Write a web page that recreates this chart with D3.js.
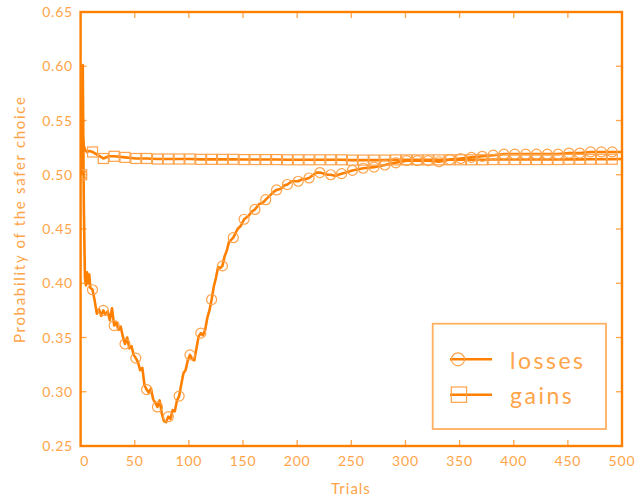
<!DOCTYPE html>
<html><head><meta charset="utf-8">
<script src="https://cdn.jsdelivr.net/npm/d3@7"></script>
<style>
body{margin:0;background:#fff;}
svg text{font-family:Lato,"Open Sans",sans-serif;}
</style></head>
<body><svg id="c" width="636" height="502"></svg>
<script>
const lossTrials = [1,2,3,4,5,6,7,8,9,11,13,15,17,19,21,23,25,27,29,31,33,35,37,39,41,43,45,47,49,51,53,55,57,59,61,63,65,67,69,71,73,75,77,79,81,83,85,87,89,91,93,95,97,99,101,103,105,107,109,111,113,115,117,119,121,123,125,127,129,131,133,135,137,139,141,145,148,151,155,158,161,165,168,171,175,178,181,185,188,191,195,198,201,205,208,211,215,218,221,225,228,231,235,238,241,245,248,251,261,271,281,291,301,311,321,331,341,351,361,371,381,391,401,411,421,431,441,451,461,471,481,491,500];
const lossValues = [0.500,0.601,0.470,0.405,0.398,0.410,0.400,0.408,0.396,0.394,0.384,0.372,0.376,0.370,0.375,0.371,0.374,0.366,0.377,0.361,0.364,0.357,0.360,0.351,0.344,0.350,0.340,0.342,0.334,0.331,0.327,0.320,0.322,0.306,0.302,0.299,0.303,0.293,0.290,0.286,0.292,0.280,0.273,0.272,0.277,0.275,0.283,0.282,0.292,0.296,0.307,0.317,0.320,0.329,0.334,0.330,0.329,0.340,0.351,0.354,0.352,0.357,0.368,0.375,0.385,0.397,0.405,0.415,0.414,0.416,0.425,0.430,0.438,0.440,0.442,0.450,0.453,0.459,0.462,0.466,0.468,0.473,0.474,0.477,0.481,0.484,0.486,0.487,0.490,0.491,0.494,0.494,0.494,0.496,0.496,0.497,0.500,0.502,0.502,0.501,0.500,0.500,0.499,0.500,0.501,0.502,0.503,0.504,0.506,0.507,0.509,0.511,0.513,0.513,0.513,0.512,0.514,0.515,0.516,0.517,0.518,0.519,0.519,0.519,0.519,0.519,0.519,0.520,0.520,0.521,0.521,0.521,0.521];
const gainTrials = [1,2,3,4,6,8,11,16,21,26,31,41,51,61,71,81,91,101,111,121,131,141,151,161,171,181,191,201,211,221,231,241,251,261,271,281,291,301,311,321,331,341,351,361,371,381,391,401,411,421,431,441,451,461,471,481,491,500];
const gainValues = [0.500,0.535,0.527,0.523,0.521,0.522,0.521,0.518,0.515,0.517,0.517,0.516,0.515,0.515,0.5145,0.5145,0.5145,0.5145,0.5142,0.5142,0.5142,0.5142,0.514,0.514,0.514,0.514,0.5138,0.5138,0.5138,0.5138,0.5138,0.5138,0.5135,0.5135,0.5135,0.5135,0.5137,0.5137,0.5137,0.5137,0.5137,0.5138,0.5138,0.5138,0.5138,0.514,0.514,0.514,0.514,0.514,0.514,0.514,0.5142,0.5142,0.5143,0.5143,0.5143,0.5145];
const markerTrials = d3.range(1, 500, 10);
const xTicks = [0,50,100,150,200,250,300,350,400,450,500];
const yTicks = [0.25,0.30,0.35,0.40,0.45,0.50,0.55,0.60,0.65];
const seriesNames = ["losses","gains"];

const C = "#ff8000", CT = "#ffa448", CM = "#ffa24a";
const svg = d3.select("#c");
const L = 80.6, R = 622, T = 12, B = 446;
const x = d3.scaleLinear().domain([0,500]).range([L,R]);
const y = d3.scaleLinear().domain([0.25,0.65]).range([B,T]);

const g = svg.append("g");
xTicks.forEach(t=>{
  g.append("line").attr("x1",x(t)).attr("x2",x(t)).attr("y1",B).attr("y2",B-6).attr("stroke",CT).attr("stroke-width",1.3);
  g.append("line").attr("x1",x(t)).attr("x2",x(t)).attr("y1",T).attr("y2",T+6).attr("stroke",CT).attr("stroke-width",1.3);
  g.append("text").attr("x",x(t)+(t===0?4:0)).attr("y",466).attr("text-anchor","middle").attr("fill",CT)
   .attr("font-size",14).attr("letter-spacing","0.8px").text(t);
});
yTicks.forEach(t=>{
  g.append("line").attr("x1",L).attr("x2",L+6).attr("y1",y(t)).attr("y2",y(t)).attr("stroke",CT).attr("stroke-width",1.3);
  g.append("line").attr("x1",R).attr("x2",R-6).attr("y1",y(t)).attr("y2",y(t)).attr("stroke",CT).attr("stroke-width",1.3);
  g.append("text").attr("x",73).attr("y",y(t)+5).attr("text-anchor","end").attr("fill",CT)
   .attr("font-size",14).attr("letter-spacing","0.8px").text(d3.format(".2f")(t));
});

const line = d3.line().x(d=>x(d[0])).y(d=>y(d[1]));
const lossData = lossTrials.map((t,i)=>[t,lossValues[i]]);
const gainData = gainTrials.map((t,i)=>[t,gainValues[i]]);
svg.append("clipPath").attr("id","cp").append("rect").attr("x",L).attr("y",T).attr("width",R-L).attr("height",B-T);
const pg = svg.append("g").attr("clip-path","url(#cp)");
pg.append("path").datum(gainData).attr("d",line).attr("fill","none").attr("stroke",C).attr("stroke-width",2.6).attr("stroke-linejoin","round");
pg.append("path").datum(lossData).attr("d",line).attr("fill","none").attr("stroke",C).attr("stroke-width",2.6).attr("stroke-linejoin","round");
const gm = gainData.filter(d=>markerTrials.includes(d[0]));
const lm = lossData.filter(d=>markerTrials.includes(d[0]));
pg.selectAll(".sq").data(gm).enter().append("rect")
  .attr("x",d=>x(d[0])-5).attr("y",d=>y(d[1])-5).attr("width",10).attr("height",10)
  .attr("fill","none").attr("stroke",CM).attr("stroke-width",1.2);
pg.selectAll(".ci").data(lm).enter().append("circle")
  .attr("cx",d=>x(d[0])).attr("cy",d=>y(d[1])).attr("r",5)
  .attr("fill","none").attr("stroke",CM).attr("stroke-width",1.2);

svg.append("rect").attr("x",L).attr("y",T).attr("width",R-L).attr("height",B-T).attr("fill","none").attr("stroke",C).attr("stroke-width",2.4);

svg.append("text").attr("x",351).attr("y",494).attr("text-anchor","middle").attr("fill",CT).attr("font-size",15).attr("letter-spacing","1px").text("Trials");
svg.append("text").attr("transform","translate(25,220) rotate(-90)").attr("text-anchor","middle").attr("fill",CT)
  .attr("font-size",15).attr("textLength",246).attr("lengthAdjust","spacing").text("Probability of the safer choice");

const lg = svg.append("g");
lg.append("rect").attr("x",432.7).attr("y",323.7).attr("width",173.3).attr("height",105.3).attr("fill","#fff").attr("stroke","#ffb060").attr("stroke-width",1.8);
lg.append("line").attr("x1",450).attr("x2",492).attr("y1",359.3).attr("y2",359.3).attr("stroke",C).attr("stroke-width",2.6);
lg.append("circle").attr("cx",458).attr("cy",359.3).attr("r",6.5).attr("fill","none").attr("stroke",CM).attr("stroke-width",1.2);
lg.append("line").attr("x1",450).attr("x2",492).attr("y1",394.7).attr("y2",394.7).attr("stroke",C).attr("stroke-width",2.6);
lg.append("rect").attr("x",451.3).attr("y",387).attr("width",15.3).attr("height",15.3).attr("fill","none").attr("stroke",CM).attr("stroke-width",1.2);
lg.append("text").attr("x",510).attr("y",368.7).attr("fill",CT).attr("font-size",23).attr("letter-spacing","2.5px").text(seriesNames[0]);
lg.append("text").attr("x",510).attr("y",404).attr("fill",CT).attr("font-size",23).attr("letter-spacing","2.5px").text(seriesNames[1]);
</script></body></html>
